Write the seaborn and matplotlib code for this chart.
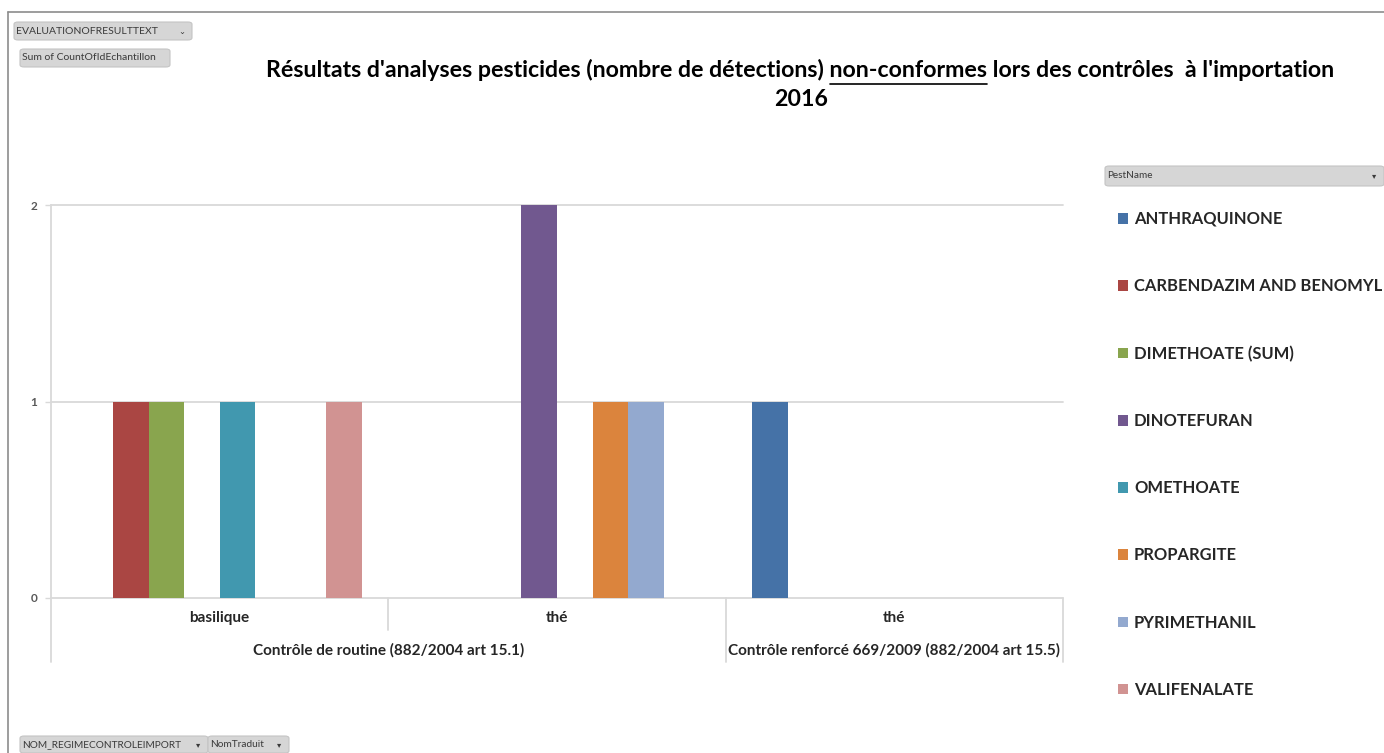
import matplotlib
matplotlib.use("Agg")
import matplotlib.pyplot as plt
from matplotlib.patches import FancyBboxPatch
from matplotlib.lines import Line2D
import seaborn as sns
import pandas as pd

# ---------------- data ----------------
categories = ["basilique", "thé", "thé"]
regimes = ["Contrôle de routine (882/2004 art 15.1)",
           "Contrôle renforcé 669/2009 (882/2004 art 15.5)"]
pesticides = ["ANTHRAQUINONE", "CARBENDAZIM AND BENOMYL", "DIMETHOATE (SUM)",
              "DINOTEFURAN", "OMETHOATE", "PROPARGITE", "PYRIMETHANIL",
              "VALIFENALATE"]
basilique_routine = [0, 1, 1, 0, 1, 0, 0, 1]
the_routine = [0, 0, 0, 2, 0, 1, 1, 0]
the_renforce = [1, 0, 0, 0, 0, 0, 0, 0]
yticks = [0, 1, 2]
colors = ["#4572A7", "#AA4643", "#89A54E", "#71588F", "#4198AF",
          "#DB843D", "#93A9CF", "#D19392"]

keys = ["g0", "g1", "g2"]
rows = []
for key, vals in zip(keys, [basilique_routine, the_routine, the_renforce]):
    for p, v in zip(pesticides, vals):
        rows.append({"cat": key, "pest": p, "n": v})
df = pd.DataFrame(rows)

# ---------------- figure ----------------
sns.set_style("white")
plt.rcParams["font.family"] = ["Lato", "DejaVu Sans"]

W, H = 1384, 753
fig = plt.figure(figsize=(W / 100, H / 100), dpi=100)

def fx(px):
    return px / W

def fy(py):
    return 1 - py / H

ax_l, ax_r, ax_t, ax_b = 51, 1063, 205, 598
ax = fig.add_axes([fx(ax_l), fy(ax_b), fx(ax_r - ax_l), (ax_b - ax_t) / H])

sns.barplot(data=df, x="cat", y="n", hue="pest", hue_order=pesticides,
            order=keys, palette=colors, saturation=1, width=0.842,
            linewidth=0, errorbar=None, ax=ax)

leg = ax.get_legend()
handles = list(leg.legend_handles)
labels = [t.get_text() for t in leg.texts]
leg.remove()

ax.set_xlim(-0.5, 2.5)
ax.set_ylim(0, 2)
ax.set_xlabel("")
ax.set_ylabel("")
grid_c = "#d9d9d9"
for y in yticks:
    ax.axhline(y, color=grid_c, lw=1.3, zorder=0, clip_on=False)
ax.set_yticks(yticks)
ax.set_yticklabels([str(v) for v in yticks], fontsize=8.5, fontweight="bold",
                   color="#595959")
ax.tick_params(axis="y", length=4, color=grid_c, width=1, pad=6, left=True)
ax.set_xticks([])
for s in ["top", "right", "bottom"]:
    ax.spines[s].set_visible(False)
ax.spines["left"].set_color(grid_c)
ax.spines["left"].set_linewidth(1.3)

tr = ax.get_xaxis_transform()
h_ax = ax_b - ax_t
lvl1 = -(618 - ax_b) / h_ax
lvl2 = -(650 - ax_b) / h_ax
short = -(630 - ax_b) / h_ax
long_ = -(662 - ax_b) / h_ax
for xd, y_end in [(-0.5, long_), (0.5, short), (1.5, long_), (2.5, long_)]:
    ax.plot([xd, xd], [0, y_end], transform=tr, color=grid_c, lw=1.3,
            clip_on=False)
for i, c in enumerate(categories):
    ax.text(i, lvl1, c, transform=tr, ha="center", va="center",
            fontsize=11, fontweight="bold", color="#262626")
ax.text(0.5, lvl2, regimes[0], transform=tr, ha="center", va="center",
        fontsize=11, fontweight="bold", color="#262626")
ax.text(2.0, lvl2, regimes[1], transform=tr, ha="center", va="center",
        fontsize=11, fontweight="bold", color="#262626")

# ---------------- legend ----------------
fig.legend(handles, labels, loc="upper left",
           bbox_to_anchor=(fx(1118), fy(211)), frameon=False,
           prop={"weight": "bold", "size": 11.9},
           handlelength=0.62, handleheight=0.62, handletextpad=0.35,
           labelspacing=3.1, borderaxespad=0, borderpad=0)

# ---------------- title ----------------
pre = "Résultats d'analyses pesticides (nombre de détections) "
mid = "non-conformes"
post = " lors des contrôles  à l'importation"
full = pre + mid + post
tfs = 16.7
t1 = fig.text(fx(800), fy(70), full, ha="center", va="center",
              fontsize=tfs, fontweight="bold", color="#000000")
fig.text(fx(801), fy(99), "2016", ha="center", va="center",
         fontsize=tfs, fontweight="bold", color="#000000")
fig.canvas.draw()
r = fig.canvas.get_renderer()

def wid(s):
    tt = fig.text(0, 0, s, fontsize=tfs, fontweight="bold")
    w = tt.get_window_extent(r).width
    tt.remove()
    return w

bb = t1.get_window_extent(r)
x_end = bb.x0 + wid(pre + mid)
x_start = x_end - wid(mid)
fig.add_artist(Line2D([(x_start + 1) / W, x_end / W], [fy(84), fy(84)],
                      color="#000000", lw=1.2))

# ---------------- frame ----------------
fig.add_artist(Line2D([fx(8), fx(8)], [fy(12), 0], color="#8c8c8c", lw=1.2))
fig.add_artist(Line2D([fx(8), 1], [fy(12), fy(12)], color="#8c8c8c", lw=1.2))

# ---------------- pivot field buttons ----------------
def button(x0, y0, x1, y1, label, fs, arrow=None):
    p = FancyBboxPatch((fx(x0), fy(y1)), fx(x1 - x0), (y1 - y0) / H,
                       boxstyle="round,pad=0,rounding_size=0.003",
                       transform=fig.transFigure, facecolor="#d6d6d6",
                       edgecolor="#c4c4c4", lw=0.8)
    fig.add_artist(p)
    fig.text(fx(x0 + 2), fy((y0 + y1) / 2), label, ha="left", va="center",
             fontsize=fs, color="#3a3a3a")
    if arrow:
        fig.text(fx(x1 - 10), fy((y0 + y1) / 2), arrow, ha="center",
                 va="center", fontsize=6, color="#3a3a3a",
                 family=["DejaVu Sans"])

button(14, 22, 192, 40, "EVALUATIONOFRESULTTEXT", 7.5, "⌄")
button(20, 49, 170, 67, "Sum of CountOfIdEchantillon", 7.5)
button(1105, 166, 1384, 186, "PestName", 7.2, "▾")
button(20, 736, 208, 753, "NOM_REGIMECONTROLEIMPORT", 7.3, "▾")
button(208, 736, 289, 753, "NomTraduit", 7.3, "▾")

fig.savefig("out.png", dpi=100)
